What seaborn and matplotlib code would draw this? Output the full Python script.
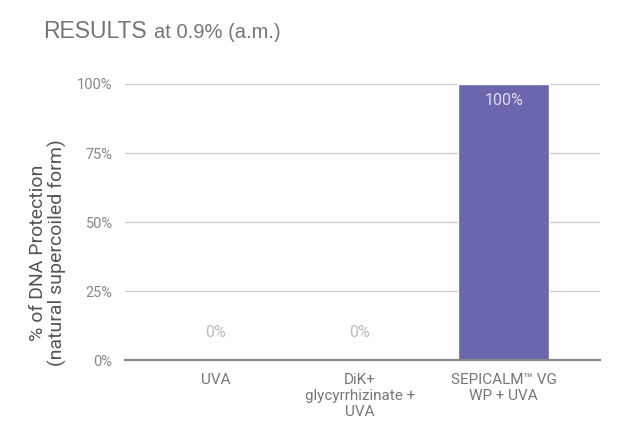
import matplotlib
matplotlib.use("Agg")
import matplotlib.pyplot as plt
import seaborn as sns
import pandas as pd

# chart data
categories = ["UVA", "DiK+\nglycyrrhizinate +\nUVA", "SEPICALM\u2122 VG\nWP + UVA"]
protection = [0, 0, 100]
y_ticks = [0, 25, 50, 75, 100]

df = pd.DataFrame({"category": categories, "protection": protection})

sns.set_theme(style="white")
plt.rcParams["font.family"] = ["Roboto", "DejaVu Sans"]

fig = plt.figure(figsize=(6.35, 4.42), dpi=100)
ax = fig.add_axes([0.197, 0.185, 0.748, 0.625])

sns.barplot(data=df, x="category", y="protection", color="#6a67ae",
            saturation=1, width=0.63, ax=ax, zorder=3)

ax.set_ylim(0, 100)
ax.set_xlim(-0.63, 2.67)
ax.set_yticks(y_ticks)
ax.set_yticklabels([f"{t}%" for t in y_ticks], color="#888888", fontsize=10.5)
ax.tick_params(axis="y", length=6, color="#cccccc", width=1, pad=3)
ax.tick_params(axis="x", length=0, pad=9, labelsize=11, labelcolor="#777777")
for t in y_ticks[1:]:
    ax.axhline(t, color="#cccccc", lw=1, zorder=1)
for s in ["top", "right", "left"]:
    ax.spines[s].set_visible(False)
ax.spines["bottom"].set_color("#888888")
ax.spines["bottom"].set_linewidth(1.6)
ax.spines["bottom"].set_zorder(4)

ax.set_xlabel("")
ax.set_ylabel("% of DNA Protection\n(natural supercoiled form)", fontsize=14,
              color="#555555", linespacing=1.05)
# label sits a bit lower than the middle of the plot area
ax.yaxis.set_label_coords(-0.122, 0.39)

# value labels
for i, v in enumerate(protection):
    if v > 50:
        ax.text(i, v - 6, f"{v}%", ha="center", va="center", fontsize=11.5,
                color="#dedcf0", zorder=5)
    else:
        ax.text(i, v + 10, f"{v}%", ha="center", va="center", fontsize=11.5,
                color="#bbbbbb", zorder=5)

fig.text(0.068, 0.914, "RESULTS", fontsize=16.5, color="#757575",
         family=["Liberation Sans", "DejaVu Sans"], va="baseline")
fig.text(0.243, 0.914, "at 0.9% (a.m.)", fontsize=14.5, color="#757575",
         family=["Liberation Sans", "DejaVu Sans"], va="baseline")

fig.savefig("out.png", dpi=100)
